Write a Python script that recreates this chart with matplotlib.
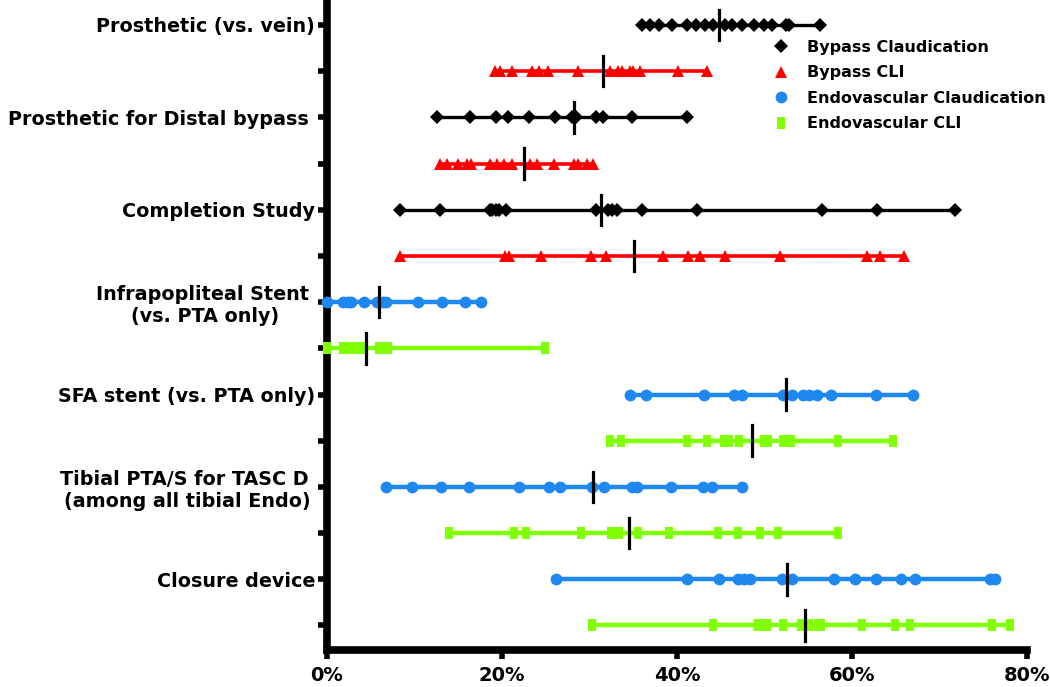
import matplotlib
matplotlib.use("Agg")
import matplotlib.pyplot as plt
from matplotlib.lines import Line2D

plt.rcParams['font.family'] = ['DejaVu Sans']
plt.rcParams['font.weight'] = 'bold'

# row labels (only every other row is labelled)
categories = ["Prosthetic (vs. vein)", "Prosthetic for Distal bypass ", "Completion Study",
              "Infrapopliteal Stent \n(vs. PTA only)", "SFA stent (vs. PTA only)",
              "Tibial PTA/S for TASC D \n(among all tibial Endo)", "Closure device"]
series_names = ["Bypass Claudication", "Bypass CLI", "Endovascular Claudication", "Endovascular CLI"]

# percentages per row, top to bottom
row_values = [
    [36.0, 36.9, 37.9, 39.4, 41.1, 42.2, 43.2, 44.1, 45.5, 46.3, 47.4, 48.8, 49.9, 50.9, 52.5, 52.8, 56.3],
    [19.2, 19.8, 21.1, 23.4, 24.2, 25.3, 28.7, 32.3, 33.3, 33.7, 34.6, 35.0, 35.8, 40.1, 43.4],
    [12.6, 16.3, 19.3, 20.7, 23.1, 26.1, 28.0, 28.5, 30.7, 31.6, 34.9, 41.2],
    [12.9, 13.7, 15.0, 16.0, 16.5, 18.6, 19.4, 20.2, 21.1, 23.2, 24.0, 25.9, 28.2, 28.7, 29.7, 30.4],
    [8.4, 12.9, 18.6, 18.9, 19.3, 19.7, 20.5, 30.8, 32.1, 32.6, 33.1, 36.0, 42.3, 56.6, 62.9, 71.8],
    [8.3, 20.4, 20.8, 24.5, 30.2, 31.9, 38.4, 41.3, 42.6, 45.5, 51.8, 61.7, 63.2, 66.0],
    [0.0, 1.8, 2.4, 2.8, 4.2, 5.7, 6.4, 6.8, 10.4, 13.1, 15.8, 17.6],
    [0.0, 1.8, 2.2, 2.8, 3.4, 3.9, 5.9, 6.4, 7.0, 24.9],
    [34.6, 36.5, 43.1, 46.5, 47.4, 52.1, 53.2, 54.4, 55.1, 56.0, 57.6, 62.7, 67.0],
    [32.4, 33.6, 41.2, 43.4, 45.4, 46.0, 47.1, 50.0, 50.4, 52.1, 53.0, 58.4, 64.7],
    [6.7, 9.7, 13.0, 16.2, 22.0, 25.4, 26.6, 30.3, 31.7, 34.9, 35.4, 39.3, 43.0, 44.0, 47.4],
    [13.9, 21.4, 22.8, 29.0, 32.5, 32.9, 33.4, 35.5, 39.1, 44.7, 47.0, 49.5, 51.6, 58.4],
    [26.2, 41.1, 44.8, 47.0, 47.7, 48.3, 52.0, 53.2, 57.9, 60.4, 62.8, 65.6, 67.2, 75.8, 76.3],
    [30.3, 44.1, 49.3, 49.7, 50.3, 52.1, 54.2, 55.1, 56.1, 56.5, 61.2, 64.9, 66.6, 76.0, 78.0],
]
row_medians = [44.8, 31.6, 28.2, 22.5, 31.3, 35.1, 5.9, 4.5, 52.5, 48.6, 30.4, 34.5, 52.6, 54.6]
row_series = [0, 1, 0, 1, 0, 1, 2, 3, 2, 3, 2, 3, 2, 3]

x_ticks = [0, 20, 40, 60, 80]
x_ticklabels = ["0%", "20%", "40%", "60%", "80%"]

rect = [(-0.6, -1), (0.6, -1), (0.6, 1), (-0.6, 1), (-0.6, -1)]
styles = [
    dict(color="black", marker="D", ms=7, lw=2.4),
    dict(color="#ff0000", marker="^", ms=9, lw=2.6),
    dict(color="#1e88f0", marker="o", ms=8.5, lw=3.2),
    dict(color="#80ff00", marker=rect, ms=8.5, lw=3.2),
]

fig = plt.figure(figsize=(10.5, 6.87), dpi=100)
ax = fig.add_axes([0.3114, 0.0539, 0.6667, 0.9461])

for i, vals in enumerate(row_values):
    y = i + 1
    st = styles[row_series[i]]
    ax.plot(sorted(vals), [y] * len(vals), color=st["color"], marker=st["marker"],
            markersize=st["ms"], linewidth=st["lw"], markeredgewidth=0, clip_on=False, zorder=3)
    ax.plot([row_medians[i]] * 2, [y - 0.33, y + 0.33], color="black", lw=2.3, zorder=4, clip_on=False)

ax.set_xlim(0, 80)
ax.set_ylim(14.53, 0.459)
ax.set_xticks(x_ticks)
ax.set_xticklabels(x_ticklabels, fontsize=14, fontweight="bold")
ax.set_yticks(range(1, 15))
ax.set_yticklabels([categories[k // 2] if k % 2 == 0 else "" for k in range(14)],
                   fontsize=13.8, fontweight="bold", multialignment="center")

for side in ["top", "right"]:
    ax.spines[side].set_visible(False)
for side in ["left", "bottom"]:
    ax.spines[side].set_linewidth(5.5)
ax.tick_params(axis="both", width=4, length=6.5)
ax.tick_params(axis="y", pad=2)
ax.tick_params(axis="x", pad=5)

handles = [Line2D([], [], linestyle="none", color=st["color"], marker=st["marker"],
                  markersize=st["ms"], markeredgewidth=0) for st in styles]
ax.legend(handles, series_names, loc="upper left", bbox_to_anchor=(0.7377, 0.9418),
          bbox_transform=fig.transFigure, frameon=False, prop={"size": 11.5, "weight": "bold"},
          handlelength=0.8, handletextpad=1.2, labelspacing=0.65, borderpad=0, borderaxespad=0)

fig.savefig("out.png", dpi=100)
plt.close(fig)
